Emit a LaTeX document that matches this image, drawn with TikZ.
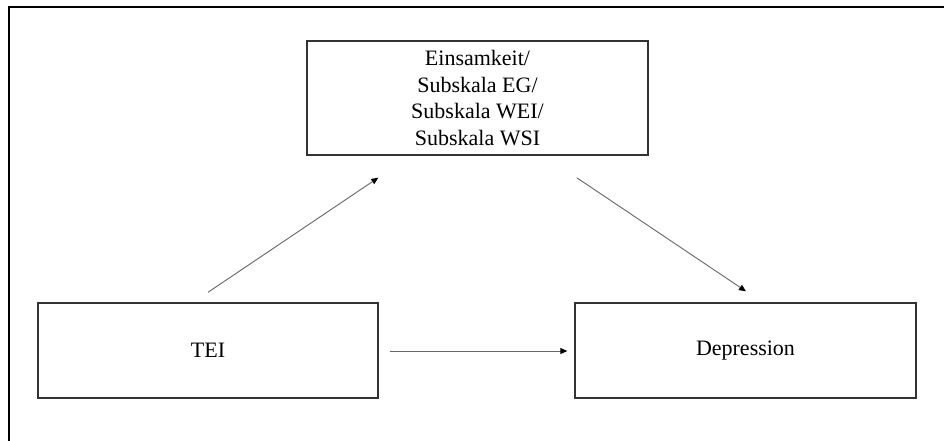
\documentclass[tikz,border=0pt]{standalone}
\usepackage{fontspec}
\setmainfont{Liberation Serif}
\usetikzlibrary{calc,arrows.meta}
\begin{document}
\begin{tikzpicture}[x=1pt,y=-1pt,
  box/.style={draw=black!80, line width=1.4pt, fill=white, align=center,
    inner sep=0pt, font=\fontsize{22}{26.7}\selectfont},
  conn/.style={draw=black!60, line width=0.9pt,
    -{Triangle[length=7pt,width=6pt,fill=black,color=black]}},
  frameline/.style={draw=black, line width=2pt}]
\useasboundingbox (0,0) rectangle (944,441);
\coordinate (fbl) at (9,441);
\coordinate (ftl) at (9,7);
\coordinate (ftr) at (944,7);
\draw[frameline] (fbl) -- (ftl) -- (ftr);
\node[box, minimum width=341pt, minimum height=114pt] (med) at (477.5,98)
  {Einsamkeit/\\Subskala EG/\\Subskala WEI/\\Subskala WSI};
\node[box, minimum width=340pt, minimum height=95pt] (tei) at (208,350.5) {TEI};
\node[box, minimum width=341pt, minimum height=95pt] (dep) at (745.5,350.5) {Depression};
\coordinate (a1s) at ($(tei.north)+(0,-10)$);
\coordinate (a1e) at ($(med.south west)+(72,22)$);
\coordinate (a2s) at ($(med.south east)+(-72,22)$);
\coordinate (a2e) at ($(dep.north)+(0.5,-11)$);
\coordinate (a3s) at ($(tei.east)+(11,0.5)$);
\coordinate (a3e) at ($(dep.west)+(-7,0.5)$);
\draw[conn] (a1s) -- (a1e);
\draw[conn] (a2s) -- (a2e);
\draw[conn] (a3s) -- (a3e);
\end{tikzpicture}
\end{document}
